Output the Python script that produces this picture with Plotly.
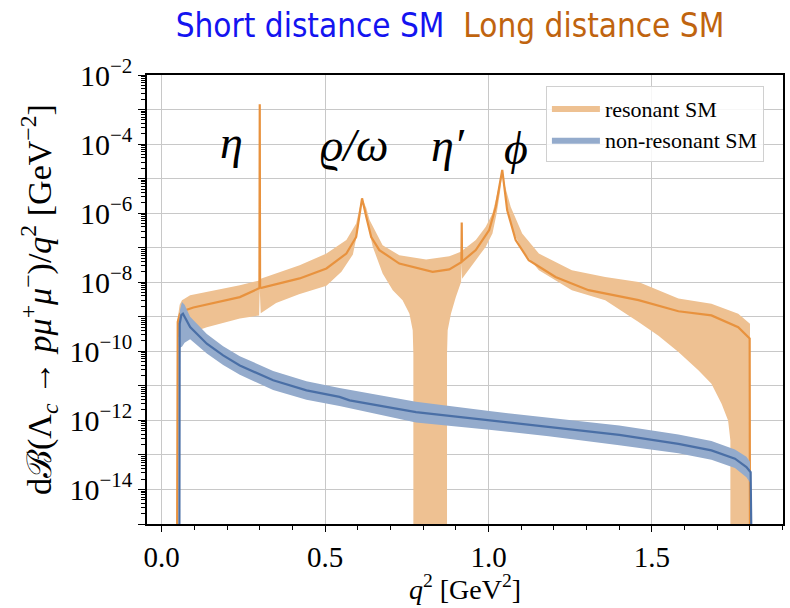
import numpy as np
import plotly.graph_objects as go

# ---- data (q^2 in GeV^2, values as log10 of dB/dq^2 in GeV^-2) ----
FLOOR = -16.0  # below the visible range: band/line runs off the bottom

# resonant (long distance) central curve
res_q2 = [0.047, 0.047, 0.049, 0.056, 0.072, 0.097, 0.138, 0.239, 0.299, 0.300, 0.301,
          0.305, 0.422, 0.504, 0.565, 0.595, 0.603, 0.613, 0.626, 0.641, 0.666, 0.727,
          0.829, 0.880, 0.917, 0.918, 0.919, 0.961, 1.002, 1.022, 1.042, 1.057, 1.083,
          1.123, 1.205, 1.306, 1.459, 1.581, 1.682, 1.764, 1.799, 1.800]
res_log = [FLOOR, -9.30, -9.15, -8.91, -8.81, -8.73, -8.64, -8.43, -8.17, -2.85, -8.15,
           -8.16, -7.89, -7.60, -7.17, -6.69, -6.20, -5.57, -6.11, -6.69, -7.07, -7.46,
           -7.70, -7.63, -7.42, -6.27, -7.40, -7.07, -6.49, -5.82, -4.75, -5.91, -6.78,
           -7.36, -7.85, -8.23, -8.52, -8.84, -8.96, -9.30, -9.63, FLOOR]

# resonant uncertainty band: upper edge (left to right)
res_up_q2 = [0.047, 0.048, 0.055, 0.062, 0.087, 0.138, 0.239, 0.299, 0.305, 0.422, 0.504,
             0.565, 0.595, 0.603, 0.613, 0.626, 0.636, 0.676, 0.727, 0.809, 0.880, 0.915,
             0.961, 0.991, 1.012, 1.025, 1.035, 1.042, 1.050, 1.068, 1.103, 1.154, 1.255,
             1.357, 1.459, 1.581, 1.682, 1.764, 1.800]
res_up_log = [-9.60, -9.10, -8.65, -8.52, -8.38, -8.28, -8.09, -7.95, -7.89, -7.51, -7.17,
              -6.78, -6.30, -5.95, -5.57, -5.85, -6.20, -6.93, -7.22, -7.34, -7.25, -7.12,
              -6.78, -6.40, -6.01, -5.50, -5.05, -4.75, -5.20, -5.82, -6.59, -7.17, -7.65,
              -7.85, -7.99, -8.47, -8.62, -8.91, -9.20]
# resonant uncertainty band: lower edge (right to left)
res_lo_q2 = [1.800, 1.740, 1.740, 1.733, 1.713, 1.682, 1.642, 1.581, 1.520, 1.459, 1.357,
             1.255, 1.154, 1.103, 1.073, 1.055, 1.042, 1.035, 1.025, 1.012, 0.991, 0.961,
             0.925, 0.919, 0.918, 0.916, 0.900, 0.885, 0.875, 0.873, 0.873, 0.770, 0.770,
             0.768, 0.758, 0.737, 0.707, 0.676, 0.646, 0.630, 0.613, 0.600, 0.585, 0.550,
             0.504, 0.420, 0.350, 0.303, 0.301, 0.300, 0.298, 0.239, 0.138, 0.067, 0.050,
             0.047]
res_lo_log = [FLOOR, FLOOR, -12.58, -12.00, -11.52, -10.94, -10.55, -10.02, -9.55, -9.15, -8.52,
              -8.23, -7.65, -7.07, -6.49, -5.70, -4.80, -5.40, -6.00, -6.59, -6.98, -7.36,
              -7.85, -7.90, -7.45, -7.99, -8.43, -8.91, -9.39, -10.07, FLOOR, FLOOR, -10.07,
              -9.39, -8.91, -8.52, -8.23, -7.75, -6.98, -6.30, -5.60, -6.50, -7.20, -7.70,
              -8.10, -8.35, -8.60, -8.90, -8.20, -8.20, -8.96, -9.05, -9.30, -9.54, -9.60,
              -9.60]

# non-resonant (short distance) central curve
nr_q2 = [0.054, 0.055, 0.060, 0.065, 0.087, 0.138, 0.188, 0.239, 0.341, 0.443, 0.544,
         0.575, 0.778, 1.002, 1.184, 1.400, 1.581, 1.682, 1.754, 1.789, 1.802, 1.805]
nr_log = [FLOOR, -9.20, -8.95, -8.91, -9.30, -9.78, -10.12, -10.41, -10.84, -11.13, -11.32,
          -11.42, -11.76, -12.00, -12.19, -12.42, -12.68, -12.87, -13.11, -13.35, -13.50, FLOOR]

# non-resonant band edges
nr_up_q2 = [0.052, 0.056, 0.062, 0.070, 0.087, 0.138, 0.188, 0.239, 0.341, 0.443, 0.544,
            0.778, 1.002, 1.184, 1.400, 1.581, 1.682, 1.754, 1.789, 1.800]
nr_up_log = [-9.60, -8.80, -8.57, -8.65, -9.00, -9.50, -9.85, -10.14, -10.57, -10.87, -11.06,
             -11.46, -11.73, -11.92, -12.15, -12.41, -12.60, -12.84, -13.05, -13.20]
nr_lo_q2 = [1.800, 1.789, 1.754, 1.682, 1.581, 1.400, 1.184, 1.002, 0.778, 0.544, 0.443,
            0.341, 0.239, 0.188, 0.138, 0.087, 0.070, 0.062, 0.055, 0.052]
nr_lo_log = [-13.80, -13.65, -13.38, -13.14, -12.95, -12.72, -12.46, -12.27, -12.06, -11.58,
             -11.40, -11.12, -10.68, -10.40, -10.06, -9.65, -9.75, -9.87, -9.90, -9.80]

# resonance labels
res_names = ["η", "ϱ/ω", "η′", "ϕ"]
res_name_q2 = [0.215, 0.590, 0.877, 1.084]
res_name_log = [-3.94, -4.03, -4.03, -4.12]

# y tick decades
decades = list(range(-15, -1))

# ---- styling ----
ORANGE_LINE = "#e8923e"
ORANGE_BAND = "#eec192"
BLUE_LINE = "#4a6fa6"
BLUE_BAND = "#94abcc"
SERIF = "Liberation Serif, DejaVu Serif, serif"
NARROW_SANS = "Liberation Sans Narrow, DejaVu Sans Condensed, Roboto, sans-serif"


def pw(v):
    return np.power(10.0, np.asarray(v, dtype=float))


fig = go.Figure()

fig.add_trace(go.Scatter(
    x=res_up_q2 + res_lo_q2, y=pw(res_up_log + res_lo_log),
    fill="toself", fillcolor=ORANGE_BAND, mode="lines", line=dict(width=0, color=ORANGE_BAND),
    name="resonant SM", hoverinfo="skip"))
fig.add_trace(go.Scatter(
    x=res_q2, y=pw(res_log), mode="lines", line=dict(color=ORANGE_LINE, width=2.2),
    showlegend=False))
fig.add_trace(go.Scatter(
    x=nr_up_q2 + nr_lo_q2, y=pw(nr_up_log + nr_lo_log),
    fill="toself", fillcolor=BLUE_BAND, mode="lines", line=dict(width=0, color=BLUE_BAND),
    name="non-resonant SM", hoverinfo="skip"))
fig.add_trace(go.Scatter(
    x=nr_q2, y=pw(nr_log), mode="lines", line=dict(color=BLUE_LINE, width=2.2),
    showlegend=False))

for name, xq, yl in zip(res_names, res_name_q2, res_name_log):
    fig.add_annotation(x=xq, y=yl, yref="y", text=f"<i>{name}</i>", showarrow=False,
                       font=dict(family=SERIF, size=46, color="black"),
                       xanchor="center", yanchor="middle")

# x-axis title placed just under the tick labels
fig.add_annotation(x=0.5, y=-0.142, xref="paper", yref="paper",
                   text="<i>q</i><sup>2</sup> [GeV<sup>2</sup>]", showarrow=False,
                   font=dict(family=SERIF, size=28, color="black"),
                   xanchor="center", yanchor="middle")

ytickvals = [10.0 ** d for d in decades]
yticktext = [f"10<sup>−{-d}</sup>" if d % 2 == 0 else "" for d in decades]
yminor = [k * 10.0 ** d for d in range(-15, -2) for k in range(2, 10)]

fig.update_layout(
    width=790, height=608,
    margin=dict(l=147, r=5, t=75, b=84),
    paper_bgcolor="white", plot_bgcolor="white",
    title=dict(
        text='<span style="color:#1414f0">Short distance SM</span>'
             '&nbsp;&nbsp;<span style="color:#c0640f">Long distance SM</span>',
        x=450 / 790, xanchor="center", xref="container",
        y=1 - 25 / 608, yanchor="middle", yref="container",
        font=dict(family=NARROW_SANS, size=33)),
    legend=dict(
        x=0.97, y=0.975, xanchor="right", yanchor="top",
        bgcolor="rgba(255,255,255,0.85)", bordercolor="#d0d0d0", borderwidth=1,
        font=dict(family=SERIF, size=22, color="black"), itemwidth=48,
        tracegroupgap=0),
    showlegend=True,
)

fig.update_xaxes(
    range=[-0.045, 1.901], showline=True, linecolor="black", linewidth=1.5, mirror=True,
    tickmode="array", tickvals=[0.0, 0.5, 1.0, 1.5], ticktext=["0.0", "0.5", "1.0", "1.5"],
    ticks="outside", ticklen=6, tickwidth=1.3, tickcolor="black",
    showgrid=True, gridcolor="#c8c8c8", gridwidth=1.3, zeroline=False,
    minor=dict(dtick=0.1, tick0=0.0, ticks="outside", ticklen=4, tickwidth=1, tickcolor="black",
               showgrid=False),
    tickfont=dict(family=SERIF, size=29, color="black"),
)

fig.update_yaxes(
    type="log", range=[-15, -2], showline=True, linecolor="black", linewidth=1.5, mirror=True,
    tickmode="array", tickvals=ytickvals, ticktext=yticktext,
    ticks="outside", ticklen=7, tickwidth=1.3, tickcolor="black",
    showgrid=True, gridcolor="#c8c8c8", gridwidth=1.3, zeroline=False,
    minor=dict(tickmode="array", tickvals=yminor, ticks="outside", ticklen=4, tickwidth=1,
               tickcolor="black", showgrid=False),
    tickfont=dict(family=SERIF, size=30, color="black"),
    title=dict(text="dℬ(Λ<sub><i>c</i></sub> → <i>pμ</i><sup>+</sup><i>μ</i><sup>−</sup>)"
                    "/<i>q</i><sup>2</sup> [GeV<sup>−2</sup>]",
               font=dict(family=SERIF, size=34, color="black"), standoff=8),
)

fig.write_html("out.html")
